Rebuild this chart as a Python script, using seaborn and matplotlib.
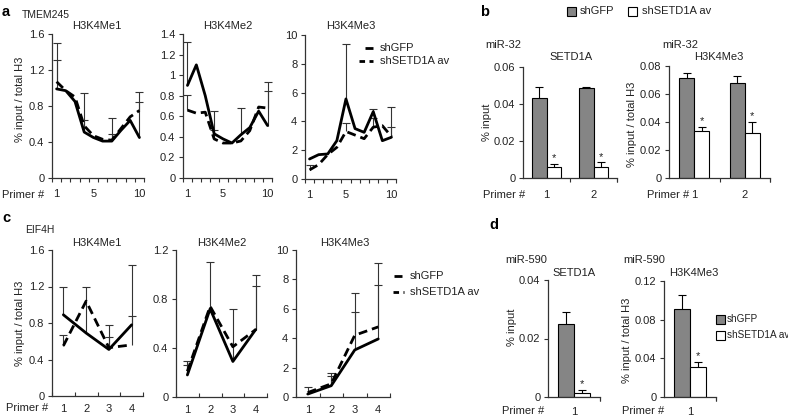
import numpy as np
import pandas as pd
import matplotlib
matplotlib.use("Agg")
import matplotlib.pyplot as plt
from matplotlib.patches import Rectangle
from matplotlib.ticker import FixedLocator
import seaborn as sns

nan = np.nan

# ---------------- data ----------------
primers10 = [1, 2, 3, 4, 5, 6, 7, 8, 9, 10]
primers4 = [1, 2, 3, 4]
xlabels10 = ["1", "5", "10"]
xlabels4 = ["1", "2", "3", "4"]
conditions = ["shGFP", "shSETD1A av"]

# a: TMEM245
a_me1_gfp = [0.99, 0.97, 0.85, 0.51, 0.45, 0.41, 0.41, 0.53, 0.64, 0.45]
a_me1_sh = [1.07, 0.97, 0.90, 0.58, 0.47, 0.43, 0.42, 0.55, 0.68, 0.75]
a_me1_gfp_err = [0.51, nan, nan, 0.43, nan, nan, 0.26, nan, nan, 0.51]
a_me1_sh_err = [0.24, nan, nan, 0.06, nan, nan, 0.07, nan, nan, 0.10]

a_me2_gfp = [0.90, 1.10, 0.80, 0.43, 0.38, 0.34, 0.42, 0.49, 0.65, 0.51]
a_me2_sh = [0.66, 0.63, 0.64, 0.38, 0.34, 0.34, 0.36, 0.46, 0.69, 0.68]
a_me2_gfp_err = [0.42, nan, nan, 0.22, nan, nan, 0.26, nan, nan, 0.42]
a_me2_sh_err = [0.15, nan, nan, 0.09, nan, nan, nan, nan, nan, 0.17]

a_me3_gfp = [1.39, 1.69, 1.74, 2.66, 5.56, 3.50, 3.24, 4.68, 2.66, 2.90]
a_me3_sh = [0.63, 1.00, 1.70, 2.20, 3.30, 3.05, 2.80, 3.60, 3.70, 2.95]
a_me3_gfp_err = [nan, nan, nan, nan, 3.84, nan, nan, 0.18, nan, 2.08]
a_me3_sh_err = [0.34, nan, nan, nan, 0.57, nan, nan, 0.64, nan, 0.68]

# c: EIF4H
c_me1_gfp = [0.89, 0.69, 0.51, 0.78]
c_me1_sh = [0.55, 1.04, 0.53, 0.56]
c_me1_gfp_err = [0.30, 0.50, 0.27, 0.66]
c_me1_sh_err = [0.12, nan, 0.12, 0.32]

c_me2_gfp = [0.18, 0.72, 0.29, 0.55]
c_me2_sh = [0.21, 0.74, 0.41, 0.55]
c_me2_gfp_err = [0.08, 0.38, 0.43, 0.45]
c_me2_sh_err = [0.08, nan, nan, 0.36]

c_me3_gfp = [0.20, 0.77, 3.20, 3.95]
c_me3_sh = [0.30, 0.90, 4.20, 4.77]
c_me3_gfp_err = [nan, 0.63, 3.90, 5.15]
c_me3_sh_err = [0.40, 0.70, 1.60, 2.83]

# b: miR-32
b_primers = ["1", "2"]
b_setd1a_gfp = [0.0430, 0.0484]
b_setd1a_sh = [0.0059, 0.0059]
b_setd1a_gfp_err = [0.0060, 0.0009]
b_setd1a_sh_err = [0.0016, 0.0025]
b_me3_gfp = [0.0717, 0.0680]
b_me3_sh = [0.0336, 0.0320]
b_me3_gfp_err = [0.0033, 0.0047]
b_me3_sh_err = [0.0028, 0.0082]

# d: miR-590
d_primers = ["1"]
d_setd1a_gfp = [0.0251]
d_setd1a_sh = [0.0014]
d_setd1a_gfp_err = [0.0040]
d_setd1a_sh_err = [0.0011]
d_me3_gfp = [0.0910]
d_me3_sh = [0.0310]
d_me3_gfp_err = [0.0150]
d_me3_sh_err = [0.0053]

# ---------------- style ----------------
sns.set_theme(style="ticks")
plt.rcParams["font.family"] = ["Liberation Sans", "DejaVu Sans"]
plt.rcParams["font.size"] = 8
TXT = "#222222"
SPINE = "#333333"
ECOL = "#333333"
GRAY = "#858585"

W, H = 788, 416
fig = plt.figure(figsize=(W / 100, H / 100), dpi=100)


def add_ax(l, t, r, b):
    return fig.add_axes([l / W, 1 - b / H, (r - l) / W, (b - t) / H])


def base_style(ax, ymax, yticks, xpad):
    for s in ("top", "right"):
        ax.spines[s].set_visible(False)
    for s in ("left", "bottom"):
        ax.spines[s].set_color(SPINE)
        ax.spines[s].set_linewidth(0.9)
    ax.set_ylim(0, ymax)
    ax.set_yticks(yticks)
    ax.set_yticklabels([f"{v:g}" for v in yticks])
    ax.tick_params(axis="y", direction="out", length=3, width=0.8, color=SPINE,
                   labelsize=8, labelcolor=TXT, pad=2.5)
    ax.tick_params(axis="x", which="major", length=0, labelsize=8, labelcolor=TXT, pad=xpad)
    ax.set_xlabel("")
    ax.set_ylabel("")
    ax.patch.set_alpha(0)


def line_panel(ax, x, gfp, sh, gfp_err, sh_err, ymax, yticks, xt, xtl, xdir, xpad):
    n = len(x)
    df = pd.DataFrame({"primer": list(x) * 2, "value": list(gfp) + list(sh),
                       "cond": [conditions[0]] * n + [conditions[1]] * n})
    sns.lineplot(data=df, x="primer", y="value", style="cond",
                 dashes={conditions[0]: "", conditions[1]: (3.2, 1.8)},
                 color="black", linewidth=2.0, legend=False, errorbar=None,
                 ax=ax, zorder=3)
    for vals, errs in ((gfp, gfp_err), (sh, sh_err)):
        v = np.array(vals, float)
        e = np.array(errs, float)
        m = ~np.isnan(e)
        xs = np.array(x, float)[m]
        ax.vlines(xs, v[m], v[m] + e[m], color=ECOL, lw=0.8, zorder=2)
        ax.plot(xs, v[m] + e[m], ls="none", marker="_", ms=6, mew=0.8,
                color=ECOL, zorder=2)
    ax.set_xlim(0.5, n + 0.5)
    base_style(ax, ymax, yticks, xpad)
    ax.set_xticks(xt)
    ax.set_xticklabels(xtl)
    ax.xaxis.set_minor_locator(FixedLocator(np.arange(0.5, n + 1, 1.0)))
    ax.tick_params(axis="x", which="minor", direction=xdir, length=3, width=0.8, color=SPINE)


def bar_panel(ax, labels, gfp, sh, gfp_err, sh_err, ymax, yticks, xpad):
    n = len(labels)
    df = pd.DataFrame({"primer": labels * 2, "value": list(gfp) + list(sh),
                       "cond": [conditions[0]] * n + [conditions[1]] * n})
    sns.barplot(data=df, x="primer", y="value", hue="cond", order=labels,
                hue_order=conditions,
                palette={conditions[0]: GRAY, conditions[1]: "white"},
                saturation=1, edgecolor="black", linewidth=0.8, width=0.6,
                errorbar=None, legend=False, ax=ax, zorder=2)
    for cont, errs, star in zip(ax.containers, (gfp_err, sh_err), (False, True)):
        for bar, e in zip(cont, errs):
            xc = bar.get_x() + bar.get_width() / 2
            h = bar.get_height()
            ax.vlines(xc, h, h + e, color="black", lw=0.8, zorder=3)
            ax.plot([xc], [h + e], ls="none", marker="_", ms=6, mew=0.8,
                    color="black", zorder=3)
            if star:
                ax.annotate("*", (xc, h + e), xytext=(0, 0.5), textcoords="offset points",
                            ha="center", va="bottom", fontsize=8, color=TXT)
    ax.set_xlim(-0.5, n - 0.5)
    base_style(ax, ymax, yticks, xpad)
    ax.xaxis.set_minor_locator(FixedLocator(np.arange(0.5, n, 1.0).tolist() + [n - 0.5]))
    ax.tick_params(axis="x", which="minor", direction="out", length=3, width=0.8, color=SPINE)


# ---------------- panels ----------------
ax = add_ax(52, 34, 144, 178)
line_panel(ax, primers10, a_me1_gfp, a_me1_sh, a_me1_gfp_err, a_me1_sh_err,
           1.6, [0, 0.4, 0.8, 1.2, 1.6], [1, 5, 10], xlabels10, "out", 8)
ax = add_ax(183, 34, 272, 178)
line_panel(ax, primers10, a_me2_gfp, a_me2_sh, a_me2_gfp_err, a_me2_sh_err,
           1.4, [0, 0.2, 0.4, 0.6, 0.8, 1, 1.2, 1.4], [1, 5, 10], xlabels10, "out", 8)
ax = add_ax(305, 35, 396, 179)
line_panel(ax, primers10, a_me3_gfp, a_me3_sh, a_me3_gfp_err, a_me3_sh_err,
           10, [0, 2, 4, 6, 8, 10], [1, 5, 10], xlabels10, "out", 8)

ax = add_ax(52, 250, 143, 396)
line_panel(ax, primers4, c_me1_gfp, c_me1_sh, c_me1_gfp_err, c_me1_sh_err,
           1.6, [0, 0.4, 0.8, 1.2, 1.6], primers4, xlabels4, "in", 5.5)
ax = add_ax(176, 250, 267, 397)
line_panel(ax, primers4, c_me2_gfp, c_me2_sh, c_me2_gfp_err, c_me2_sh_err,
           1.2, [0, 0.4, 0.8, 1.2], primers4, xlabels4, "in", 5.5)
ax = add_ax(296, 250, 390, 397)
line_panel(ax, primers4, c_me3_gfp, c_me3_sh, c_me3_gfp_err, c_me3_sh_err,
           10, [0, 2, 4, 6, 8, 10], primers4, xlabels4, "in", 5.5)

ax = add_ax(523, 67, 617, 178)
bar_panel(ax, b_primers, b_setd1a_gfp, b_setd1a_sh, b_setd1a_gfp_err, b_setd1a_sh_err,
          0.06, [0, 0.02, 0.04, 0.06], 9)
ax = add_ax(669, 66, 770, 178)
bar_panel(ax, b_primers, b_me3_gfp, b_me3_sh, b_me3_gfp_err, b_me3_sh_err,
          0.08, [0, 0.02, 0.04, 0.06, 0.08], 9)
ax = add_ax(548, 280, 600, 397)
bar_panel(ax, d_primers, d_setd1a_gfp, d_setd1a_sh, d_setd1a_gfp_err, d_setd1a_sh_err,
          0.04, [0, 0.02, 0.04], 7)
ax = add_ax(664, 281, 716, 397)
bar_panel(ax, d_primers, d_me3_gfp, d_me3_sh, d_me3_gfp_err, d_me3_sh_err,
          0.12, [0, 0.04, 0.08, 0.12], 7)

# ---------------- overlay text (pixel coordinates) ----------------
ov = fig.add_axes([0, 0, 1, 1], zorder=10)
ov.set_xlim(0, W)
ov.set_ylim(H, 0)
ov.axis("off")
ov.patch.set_alpha(0)


def t(s, x, y, ha="left", size=8, **kw):
    ov.text(x, y, s, ha=ha, va="center", fontsize=size, color=TXT, **kw)


for s, x, y in (("a", 2, 12), ("b", 480, 12), ("c", 2, 218), ("d", 489, 225)):
    ov.text(x, y, s, ha="left", va="center", fontsize=10.5, fontweight="bold", color="black")

t("TMEM245", 22, 14.5, size=7.5)
t("EIF4H", 25, 230, size=7.5)
for s, x in (("H3K4Me1", 97), ("H3K4Me2", 228), ("H3K4Me3", 351)):
    t(s, x, 26, ha="center")
for s, x in (("H3K4Me1", 97), ("H3K4Me2", 222), ("H3K4Me3", 345)):
    t(s, x, 243, ha="center")

t("miR-32", 485, 45)
t("SETD1A", 571, 57, ha="center")
t("miR-32", 662, 45)
t("H3K4Me3", 719, 57, ha="center")
t("miR-590", 505, 260)
t("SETD1A", 552, 273)
t("miR-590", 623, 260)
t("H3K4Me3", 669, 273)

for s, x, y in (("% input / total H3", 20, 99), ("% input / total H3", 20, 323),
                ("% input", 487, 122), ("% input / total H3", 632, 124),
                ("% input", 512, 327), ("% input / total H3", 627, 340)):
    ov.text(x, y, s, ha="center", va="center", rotation=90, fontsize=8, color=TXT)

for x, y in ((2, 195), (6, 408), (483, 195), (647, 195), (502, 411), (622, 411)):
    t("Primer #", x, y)

# line legends (a and c)
for (x0s, x1s, x0d, x1d, ys, yd, xt) in ((365, 373, 359, 373, 48, 61, 380),
                                          (394, 402, 393, 404, 276, 292, 410)):
    ov.plot([x0s, x1s], [ys, ys], color="black", lw=2.0, solid_capstyle="butt")
    ov.plot([x0d, x1d], [yd, yd], color="black", lw=2.0, ls=(0, (2.0, 1.6)),
            dash_capstyle="butt")
    t(conditions[0], xt, ys)
    t(conditions[1], xt, yd)

# bar legends (b and d)
for (x, y, fc) in ((567, 11, GRAY), (628, 11, "white"), (716, 319, GRAY), (716, 335, "white")):
    ov.add_patch(Rectangle((x, y - 4.5), 9, 9, facecolor=fc, edgecolor="black", lw=0.8))
t(conditions[0], 580, 11)
t(conditions[1], 642, 11)
t(conditions[0], 727, 319, size=7.2)
t(conditions[1], 727, 335, size=7.2)

fig.savefig("out.png", dpi=100)
